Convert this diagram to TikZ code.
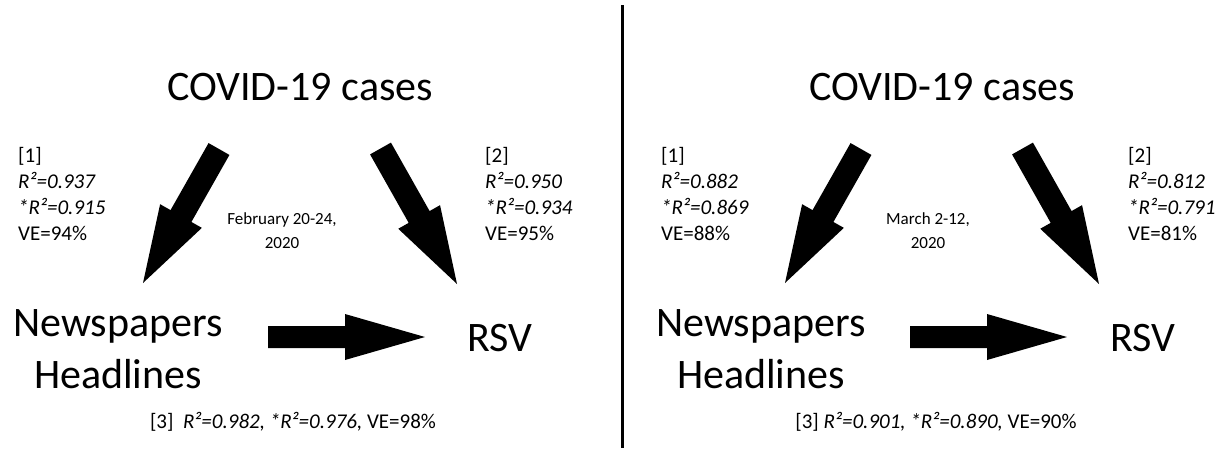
\documentclass[tikz,border=0pt]{standalone}
\usepackage{fontspec}
\setmainfont{Carlito}
\usetikzlibrary{calc}
\newcommand\myblockarrow[5]{% tail, tip, shaft half width, head half width, head length
  \coordinate (#1base) at ($(#2)!#5!(#1)$);
  \fill[black] ($(#1)!#3!90:(#2)$) -- ($(#1base)!#3!90:(#2)$) -- ($(#1base)!#4!90:(#2)$) -- (#2)
    -- ($(#1base)!#4!-90:(#2)$) -- ($(#1base)!#3!-90:(#2)$) -- ($(#1)!#3!-90:(#2)$) -- cycle;
}
\begin{document}
\begin{tikzpicture}[x=1pt,y=-1pt,
  big/.style={font=\fontsize{42}{51}\selectfont, inner sep=0pt, anchor=base},
  small/.style={font=\fontsize{21}{25}\selectfont, inner sep=0pt, anchor=base west},
  smallc/.style={font=\fontsize{21}{25}\selectfont, inner sep=0pt, anchor=base},
  datetext/.style={font=\fontsize{17}{20}\selectfont, inner sep=0pt, anchor=base},
  divider/.style={line width=3pt, black}
]
\useasboundingbox (0,0) rectangle (1223,451);

% divider
\coordinate (divtop) at (622,5);
\coordinate (divbot) at (622,448);
\draw[divider] (divtop) -- (divbot);

% ---------- left panel ----------
\node[big] (covL) at (300,100) {COVID-19 cases};
\node[big] (newsL) at (118,336) {Newspapers};
\node[big] (headL) at (118,388) {Headlines};
\node[big] (rsvL) at (500,351) {RSV};

\coordinate (La) at (219,149); \coordinate (Lb) at (143,283);
\coordinate (Lc) at (380.5,148.5); \coordinate (Ld) at (457,284);
\coordinate (Le) at (268,337); \coordinate (Lf) at (425,337);
\myblockarrow{La}{Lb}{12pt}{24pt}{77pt}
\myblockarrow{Lc}{Ld}{12pt}{24pt}{77pt}
\myblockarrow{Le}{Lf}{11pt}{23pt}{80pt}

\node[small] (L1a) at (18,162) {[1]};
\node[small] (L1b) at (18,188) {\textit{R²=0.937}};
\node[small] (L1c) at (18,214) {\textit{*R²=0.915}};
\node[small] (L1d) at (18,240) {VE=94\%};

\node[small] (L2a) at (485,162) {[2]};
\node[small] (L2b) at (485,188) {\textit{R²=0.950}};
\node[small] (L2c) at (485,214) {\textit{*R²=0.934}};
\node[small] (L2d) at (485,240) {VE=95\%};

\node[datetext] (LdateA) at (282,224) {February 20-24,};
\node[datetext] (LdateB) at (282,248) {2020};

\node[smallc] (L3) at (293,428) {[3]\ \ \textit{R²=0.982, *R²=0.976,} VE=98\%};

% ---------- right panel ----------
\node[big] (covR) at (942,100) {COVID-19 cases};
\node[big] (newsR) at (761,336) {Newspapers};
\node[big] (headR) at (761,388) {Headlines};
\node[big] (rsvR) at (1143,351) {RSV};

\coordinate (Ra) at (861,149); \coordinate (Rb) at (785,283);
\coordinate (Rc) at (1022.5,148.5); \coordinate (Rd) at (1099,284);
\coordinate (Re) at (910,337); \coordinate (Rf) at (1067,337);
\myblockarrow{Ra}{Rb}{12pt}{24pt}{77pt}
\myblockarrow{Rc}{Rd}{12pt}{24pt}{77pt}
\myblockarrow{Re}{Rf}{11pt}{23pt}{80pt}

\node[small] (R1a) at (661,162) {[1]};
\node[small] (R1b) at (661,188) {\textit{R²=0.882}};
\node[small] (R1c) at (661,214) {\textit{*R²=0.869}};
\node[small] (R1d) at (661,240) {VE=88\%};

\node[small] (R2a) at (1128,162) {[2]};
\node[small] (R2b) at (1128,188) {\textit{R²=0.812}};
\node[small] (R2c) at (1128,214) {\textit{*R²=0.791}};
\node[small] (R2d) at (1128,240) {VE=81\%};

\node[datetext] (RdateA) at (928,224) {March 2-12,};
\node[datetext] (RdateB) at (928,248) {2020};

\node[smallc] (R3) at (936,428) {[3] \textit{R²=0.901, *R²=0.890,} VE=90\%};
\end{tikzpicture}
\end{document}
